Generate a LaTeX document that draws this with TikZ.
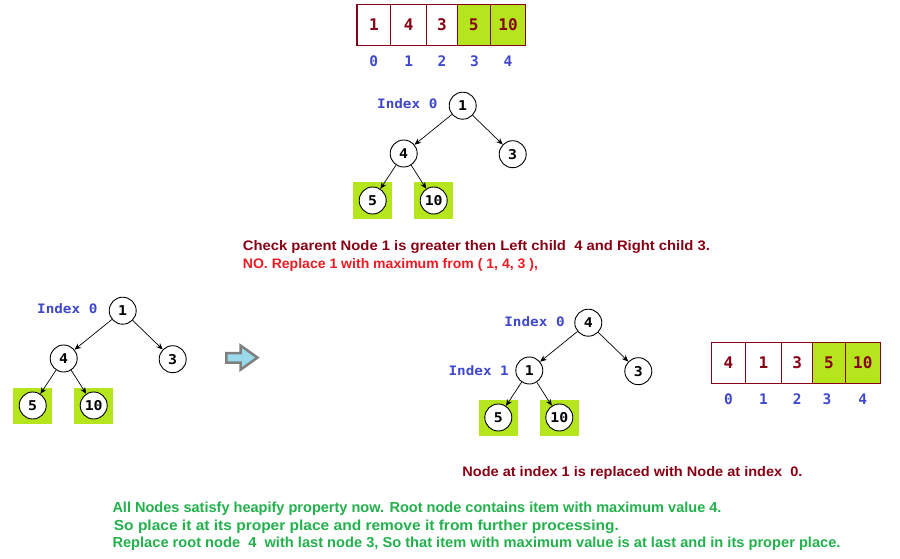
\documentclass[tikz,border=0pt]{standalone}
\usepackage{fontspec}
\usepackage{graphicx}
\setmainfont{Liberation Sans}
\newfontfamily\monoS{DejaVu Sans Mono}[FakeStretch=1.1]
\newfontfamily\monoN{DejaVu Sans Mono}
\usetikzlibrary{arrows.meta}
\definecolor{dred}{HTML}{880015}
\definecolor{iblue}{HTML}{3F48CC}
\definecolor{lgreen}{HTML}{B5E61D}
\definecolor{tgreen}{HTML}{22B14C}
\definecolor{tred}{HTML}{ED1C24}
\definecolor{arrfill}{HTML}{99D9EA}
\definecolor{arrgray}{HTML}{7F7F7F}
\tikzset{
  tnode/.style={circle,draw=black,line width=0.9pt,minimum size=27pt,inner sep=0pt,fill=white,
    font=\monoS\bfseries\fontsize{13.5}{14}\selectfont},
  leafbg/.style={fill=lgreen,draw=none,minimum width=39pt,minimum height=36pt,inner sep=0pt},
  edge/.style={-{Stealth[length=6.5pt,width=5.5pt]},line width=0.7pt},
  idx/.style={text=iblue,font=\monoS\bfseries\fontsize{13}{14}\selectfont,anchor=base,inner sep=0pt},
  aidx/.style={text=iblue,font=\monoN\bfseries\fontsize{14.5}{15}\selectfont,anchor=base,inner sep=0pt},
  cell/.style={draw=dred,line width=1.5pt,minimum height=41pt,inner sep=0pt,text=dred,
    font=\monoN\bfseries\fontsize{16}{16}\selectfont},
  gcell/.style={cell,fill=lgreen},
  sent/.style={anchor=base west,inner sep=0pt},
}
\newcommand\drawheap[7]{%
  \begin{scope}[shift={#1}]
    \node[leafbg] (#2g1) at (-90,94.8) {};
    \node[leafbg] (#2g2) at (-29,94.8) {};
    \node[tnode] (#2r) at (0,0) {#3};
    \node[tnode] (#2l) at (-59,47.8) {#4};
    \node[tnode] (#2rr) at (50,48.5) {#5};
    \node[tnode] (#2ll) at (-90,94.8) {#6};
    \node[tnode] (#2lr) at (-29,94.8) {#7};
    \draw[edge] (#2r) -- (#2l);
    \draw[edge] (#2r) -- (#2rr);
    \draw[edge] (#2l) -- (#2ll);
    \draw[edge] (#2l) -- (#2lr);
  \end{scope}}
\begin{document}
\begin{tikzpicture}[x=1pt,y=-1pt]
\useasboundingbox (0,0) rectangle (900,559);
\fill[white] (0,0) rectangle (900,559);

% top array
\node[cell,minimum width=33.7pt] (a0) at (373.85,24.8) {1};
\node[cell,minimum width=36pt] (a1) at (408.7,24.8) {4};
\node[cell,minimum width=30.6pt] (a2) at (442,24.8) {3};
\node[gcell,minimum width=33pt] (a3) at (473.8,24.8) {5};
\node[gcell,minimum width=35.4pt] (a4) at (508,24.8) {10};
\node[aidx] (ai0) at (373.85,66.7) {0};
\node[aidx] (ai1) at (408.7,66.7) {1};
\node[aidx] (ai2) at (442,66.7) {2};
\node[aidx] (ai3) at (474.5,66.7) {3};
\node[aidx] (ai4) at (508,66.7) {4};

% top tree
\drawheap{(462.7,105.7)}{t}{1}{4}{3}{5}{10}
\node[idx] (tidx) at (407.3,108.3) {Index 0};

\node[sent] (s1) at (242.7,250) {\resizebox{467pt}{10pt}{\color{dred}\bfseries Check parent Node 1 is greater then Left child\ \ 4 and Right child 3.}};
\node[sent] (s2) at (242.7,268.3) {\resizebox{295pt}{10pt}{\color{tred}\bfseries NO. Replace 1 with maximum from ( 1, 4, 3 ),}};

% left tree
\drawheap{(122.7,310.7)}{l}{1}{4}{3}{5}{10}
\node[idx] (lidx) at (67.3,313.3) {Index 0};

% block arrow
\draw[arrgray,fill=arrfill,line width=2.5pt]
  (226.3,353) -- (240.5,353) -- (240.5,345.5) -- (257.5,357.6) -- (240.5,369.7) -- (240.5,362.5) -- (226.3,362.5) -- cycle;

% right tree
\drawheap{(588.3,322.7)}{r}{4}{1}{3}{5}{10}
\node[idx] (ridx0) at (534.5,326) {Index 0};
\node[idx] (ridx1) at (478.7,375.7) {Index 1};

% right array
\node[cell,minimum width=33.6pt,minimum height=40.6pt] (b0) at (728.5,363) {4};
\node[cell,minimum width=36.4pt,minimum height=40.6pt] (b1) at (763.5,363) {1};
\node[cell,minimum width=31pt,minimum height=40.6pt] (b2) at (797.2,363) {3};
\node[gcell,minimum width=32.6pt,minimum height=40.6pt] (b3) at (829,363) {5};
\node[gcell,minimum width=35pt,minimum height=40.6pt] (b4) at (862.8,363) {10};
\node[aidx] (bi0) at (728.5,404) {0};
\node[aidx] (bi1) at (763.5,404) {1};
\node[aidx] (bi2) at (797.2,404) {2};
\node[aidx] (bi3) at (827,404) {3};
\node[aidx] (bi4) at (862.8,404) {4};

\node[sent] (s3) at (462.2,476.7) {\resizebox{340pt}{10pt}{\color{dred}\bfseries Node at index 1 is replaced with Node at index\ \ 0.}};

\node[sent] (g1) at (112.3,512.7) {\resizebox{609pt}{10.5pt}{\color{tgreen}\bfseries All Nodes satisfy heapify property now. Root node contains item with maximum value 4.}};
\node[sent] (g2) at (113.7,530) {\resizebox{505pt}{10.5pt}{\color{tgreen}\bfseries So place it at its proper place and remove it from further processing.}};
\node[sent] (g3) at (112.3,547.3) {\resizebox{728pt}{10.5pt}{\color{tgreen}\bfseries Replace root node\ \ 4\ \ with last node 3, So that item with maximum value is at last and in its proper place.}};
\end{tikzpicture}
\end{document}
